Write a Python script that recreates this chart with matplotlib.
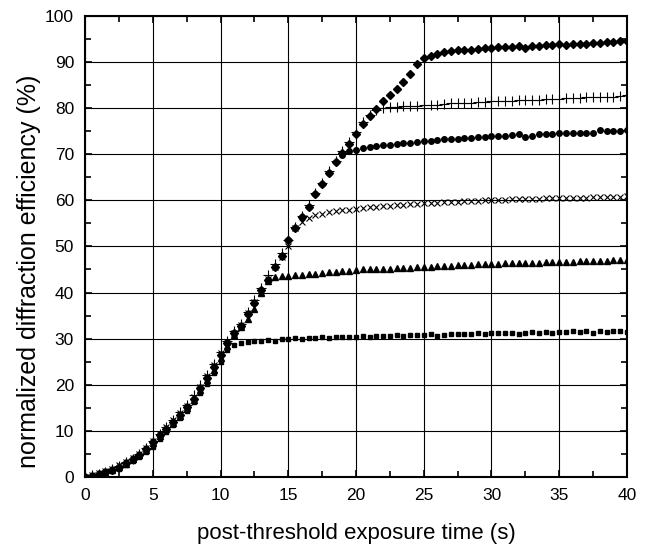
import matplotlib
matplotlib.use("Agg")
import matplotlib.pyplot as plt
from matplotlib.ticker import MultipleLocator

plt.rcParams['font.family'] = ['Liberation Sans', 'DejaVu Sans']

# exposure time, 0.5 s steps
time_s = [i * 0.5 for i in range(81)]

squares = [0.0, 0.2, 0.5, 0.8, 1.2, 1.8, 2.6, 3.4, 4.3, 5.4, 6.4, 8.2, 9.8, 11.2, 12.8, 14.4,
           16.3, 18.2, 20.2, 22.5, 25.0, 27.5, 28.6, 29.0, 29.2, 29.4, 29.5, 29.6, 29.5, 29.9,
           30.0, 30.1, 30.0, 30.2, 30.2, 30.3, 30.2, 30.3, 30.4, 30.3, 30.4, 30.5, 30.4, 30.6,
           30.6, 30.5, 30.7, 30.6, 30.7, 30.8, 30.8, 30.9, 30.6, 30.7, 31.0, 31.1, 31.0, 31.1,
           31.2, 31.1, 31.2, 31.3, 31.2, 31.3, 31.1, 31.3, 31.4, 31.2, 31.4, 31.3, 31.5, 31.5,
           31.6, 31.4, 31.7, 31.3, 31.6, 31.5, 31.6, 31.6, 31.5]

triangles = [0.0, 0.3, 0.6, 1.0, 1.5, 2.1, 2.9, 3.8, 4.7, 5.8, 7.4, 8.8, 10.3, 11.8, 13.3, 15.0,
             16.8, 18.8, 21.0, 23.3, 25.8, 28.3, 30.8, 32.5, 34.2, 36.5, 39.8, 42.5, 43.4, 43.5,
             43.6, 43.8, 43.9, 44.0, 44.1, 44.3, 44.4, 44.5, 44.6, 44.7, 44.9, 45.0, 45.0, 45.1,
             45.2, 45.2, 45.3, 45.4, 45.4, 45.5, 45.6, 45.6, 45.7, 45.8, 45.8, 45.9, 45.9, 46.0,
             46.1, 46.1, 46.2, 46.2, 46.3, 46.3, 46.4, 46.4, 46.5, 46.5, 46.6, 46.6, 46.7, 46.7,
             46.7, 46.8, 46.8, 46.8, 46.9, 46.9, 47.0, 47.0, 47.1]

crosses = [0.0, 0.4, 0.8, 1.2, 1.8, 2.6, 3.3, 4.1, 5.0, 6.2, 7.8, 9.3, 10.8, 12.3, 13.8, 15.5,
           17.4, 19.6, 21.8, 24.2, 26.8, 29.2, 31.3, 33.0, 35.5, 38.0, 40.2, 43.0, 45.5, 47.8,
           50.0, 54.0, 55.3, 56.2, 56.8, 57.1, 57.4, 57.6, 57.8, 58.0, 58.2, 58.3, 58.5, 58.6,
           58.7, 58.8, 58.9, 59.0, 59.2, 59.3, 59.4, 59.5, 59.5, 59.6, 59.7, 59.7, 59.8, 59.9,
           59.9, 60.0, 60.0, 60.1, 60.1, 60.2, 60.2, 60.2, 60.3, 60.3, 60.4, 60.4, 60.5, 60.5,
           60.5, 60.6, 60.6, 60.7, 60.7, 60.7, 60.8, 60.8, 60.9]

circles = [0.0, 0.3, 0.6, 1.0, 1.5, 2.2, 3.0, 3.9, 4.8, 6.0, 7.6, 9.0, 10.5, 12.0, 13.5, 15.2,
           17.0, 19.2, 21.5, 23.8, 26.5, 29.0, 31.2, 32.8, 35.3, 37.8, 40.5, 42.8, 45.5, 48.0,
           51.3, 54.0, 56.3, 58.5, 61.3, 63.5, 66.0, 68.2, 69.8, 70.6, 71.0, 71.3, 71.5, 71.7,
           71.9, 72.0, 72.2, 72.4, 72.5, 72.7, 72.8, 72.9, 73.0, 73.2, 73.3, 73.4, 73.5, 73.6,
           73.7, 73.8, 73.9, 74.0, 74.0, 74.1, 74.3, 73.8, 73.9, 74.3, 74.4, 74.4, 74.5, 74.5,
           74.6, 74.6, 74.7, 74.7, 75.2, 75.1, 75.0, 75.1, 75.2]

pluses = [0.0, 0.4, 0.7, 1.1, 1.7, 2.4, 3.2, 4.0, 5.0, 6.2, 7.9, 9.4, 10.9, 12.4, 14.0, 15.7,
          17.7, 20.0, 22.2, 24.5, 27.0, 29.5, 31.6, 33.2, 35.8, 38.3, 41.0, 43.7, 46.2, 48.6,
          51.5, 54.3, 56.7, 59.0, 61.6, 63.8, 66.3, 68.6, 70.8, 72.6, 74.8, 77.0, 78.6, 79.6,
          80.0, 80.2, 80.3, 80.4, 80.4, 80.5, 80.6, 80.6, 80.7, 80.9, 81.0, 81.0, 81.2, 81.2,
          81.3, 81.4, 81.5, 81.5, 81.6, 81.6, 81.7, 81.7, 81.8, 81.8, 81.9, 82.0, 82.0, 82.1,
          82.2, 82.2, 82.3, 82.4, 82.4, 82.5, 82.5, 82.6, 82.8]

diamonds = [0.0, 0.3, 0.6, 1.0, 1.5, 2.2, 3.0, 3.9, 4.8, 6.0, 7.6, 9.0, 10.5, 12.0, 13.5, 15.2,
            17.0, 19.2, 21.5, 23.8, 26.5, 29.0, 31.2, 32.8, 35.3, 37.8, 40.5, 42.8, 45.5, 48.0,
            51.3, 54.0, 56.3, 58.5, 61.3, 63.5, 66.0, 68.2, 70.3, 72.3, 74.3, 76.5, 78.3, 79.8,
            81.5, 82.8, 84.2, 85.6, 87.3, 89.5, 90.8, 91.4, 91.7, 92.2, 92.4, 92.5, 92.6, 92.7,
            92.8, 93.0, 93.1, 93.2, 93.3, 93.3, 93.5, 93.1, 93.4, 93.5, 93.6, 93.7, 93.8, 93.7,
            93.9, 94.0, 94.0, 94.1, 94.2, 94.3, 94.4, 94.5, 94.6]

fig = plt.figure(figsize=(6.45, 5.47), dpi=100)
ax = fig.add_axes([0.132, 0.128, 0.840, 0.843])

ax.grid(True, which='major', color='black', linewidth=0.8)
ax.set_axisbelow(True)

ax.plot(time_s, squares, linestyle='none', marker='s', markersize=3.5, color='black')
ax.plot(time_s, triangles, linestyle='none', marker='^', markersize=4.5, color='black')
ax.plot(time_s, crosses, linestyle='none', marker='x', markersize=5, markeredgewidth=0.8, color='black')
ax.plot(time_s, circles, linestyle='none', marker='o', markersize=4, color='black')
ax.plot(time_s, pluses, linestyle='none', marker='+', markersize=7, markeredgewidth=0.8, color='black')
ax.plot(time_s, diamonds, linestyle='none', marker='D', markersize=4, color='black')

ax.set_xlim(0, 40)
ax.set_ylim(0, 100)
ax.xaxis.set_major_locator(MultipleLocator(5))
ax.xaxis.set_minor_locator(MultipleLocator(2.5))
ax.yaxis.set_major_locator(MultipleLocator(10))
ax.yaxis.set_minor_locator(MultipleLocator(5))
ax.tick_params(which='both', direction='in', top=True, right=True, labelsize=12.5, width=1.2)
ax.tick_params(which='major', length=5, pad=8)
ax.tick_params(which='minor', length=4)
for sp in ax.spines.values():
    sp.set_linewidth(1.5)

ax.set_xlabel('post-threshold exposure time (s)', fontsize=16)
ax.set_ylabel('normalized diffraction efficiency (%)', fontsize=18)
ax.xaxis.set_label_coords(0.5, -0.099)
ax.yaxis.set_label_coords(-0.081, 0.445)

fig.savefig('out.png', dpi=100)
